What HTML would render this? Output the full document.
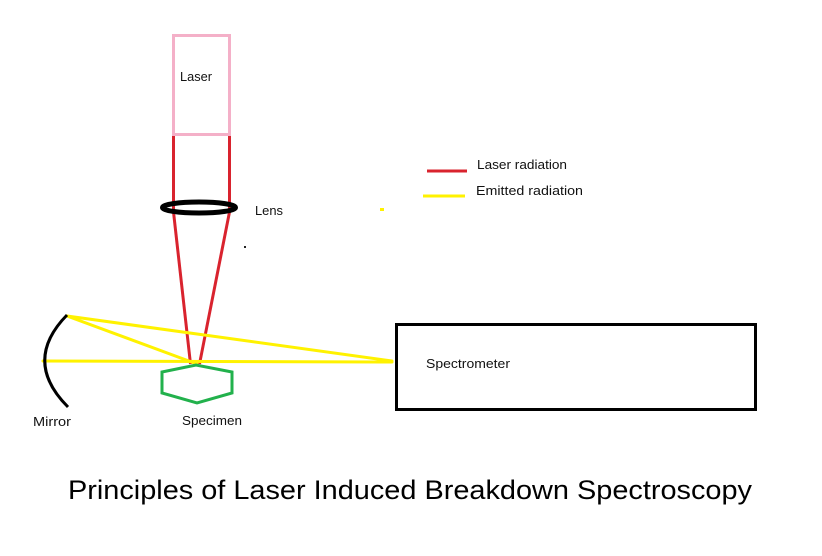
<!DOCTYPE html>
<html>
<head>
<meta charset="utf-8">
<style>
html,body{margin:0;padding:0;background:#fff;}
svg{display:block;}
text{font-family:"Liberation Sans",sans-serif;fill:#111;}
</style>
</head>
<body>
<svg width="822" height="556" viewBox="0 0 822 556" xmlns="http://www.w3.org/2000/svg">
  <rect x="0" y="0" width="822" height="556" fill="#ffffff"/>

  <!-- Laser box -->
  <rect x="173.5" y="35.5" width="56" height="99" fill="none" stroke="#f4b0c8" stroke-width="3"/>
  <text x="180" y="81" font-size="13" textLength="32" lengthAdjust="spacingAndGlyphs">Laser</text>

  <!-- Laser beam -->
  <g stroke="#d9232e" stroke-width="3" fill="none" stroke-linecap="butt">
    <line x1="173.5" y1="136" x2="173.5" y2="212"/>
    <line x1="229.5" y1="136" x2="229.5" y2="212"/>
    <line x1="173.5" y1="212" x2="190.5" y2="364"/>
    <line x1="229.5" y1="212" x2="199.5" y2="364"/>
  </g>

  <!-- Lens -->
  <ellipse cx="199" cy="207.5" rx="36.5" ry="5.5" fill="none" stroke="#000" stroke-width="5"/>
  <text x="255" y="215" font-size="13" textLength="28" lengthAdjust="spacingAndGlyphs">Lens</text>
  <rect x="244" y="246" width="2" height="2" fill="#222"/>

  <!-- Legend -->
  <line x1="427" y1="171" x2="467" y2="171" stroke="#d9232e" stroke-width="3"/>
  <text x="477" y="169" font-size="13" textLength="90" lengthAdjust="spacingAndGlyphs">Laser radiation</text>
  <line x1="423" y1="196" x2="465" y2="196" stroke="#fff200" stroke-width="3"/>
  <text x="476" y="195" font-size="13" textLength="107" lengthAdjust="spacingAndGlyphs">Emitted radiation</text>
  <rect x="380" y="208" width="4" height="3" fill="#fff200"/>

  <!-- Emitted radiation lines -->
  <g stroke="#fff200" stroke-width="3" fill="none" stroke-linecap="round">
    <line x1="67" y1="316" x2="392" y2="361"/>
    <line x1="67" y1="316" x2="197" y2="364"/>
    <line x1="43" y1="361" x2="392" y2="362"/>
  </g>

  <!-- Mirror -->
  <path d="M67,315 Q22,361 68,407" fill="none" stroke="#000" stroke-width="3"/>
  <text x="33" y="426" font-size="13" textLength="38" lengthAdjust="spacingAndGlyphs">Mirror</text>

  <!-- Specimen -->
  <polygon points="162,372 196,365 232,372 232,393 197,403 162,393" fill="none" stroke="#22b14c" stroke-width="3"/>
  <text x="182" y="425" font-size="13" textLength="60" lengthAdjust="spacingAndGlyphs">Specimen</text>

  <!-- Spectrometer -->
  <rect x="396.5" y="324.5" width="359" height="85" fill="none" stroke="#000" stroke-width="3"/>
  <text x="426" y="368" font-size="13" textLength="84" lengthAdjust="spacingAndGlyphs">Spectrometer</text>

  <!-- Title -->
  <text x="68" y="499" font-size="27" textLength="684" lengthAdjust="spacingAndGlyphs" style="fill:#000">Principles of Laser Induced Breakdown Spectroscopy</text>
</svg>
</body>
</html>
